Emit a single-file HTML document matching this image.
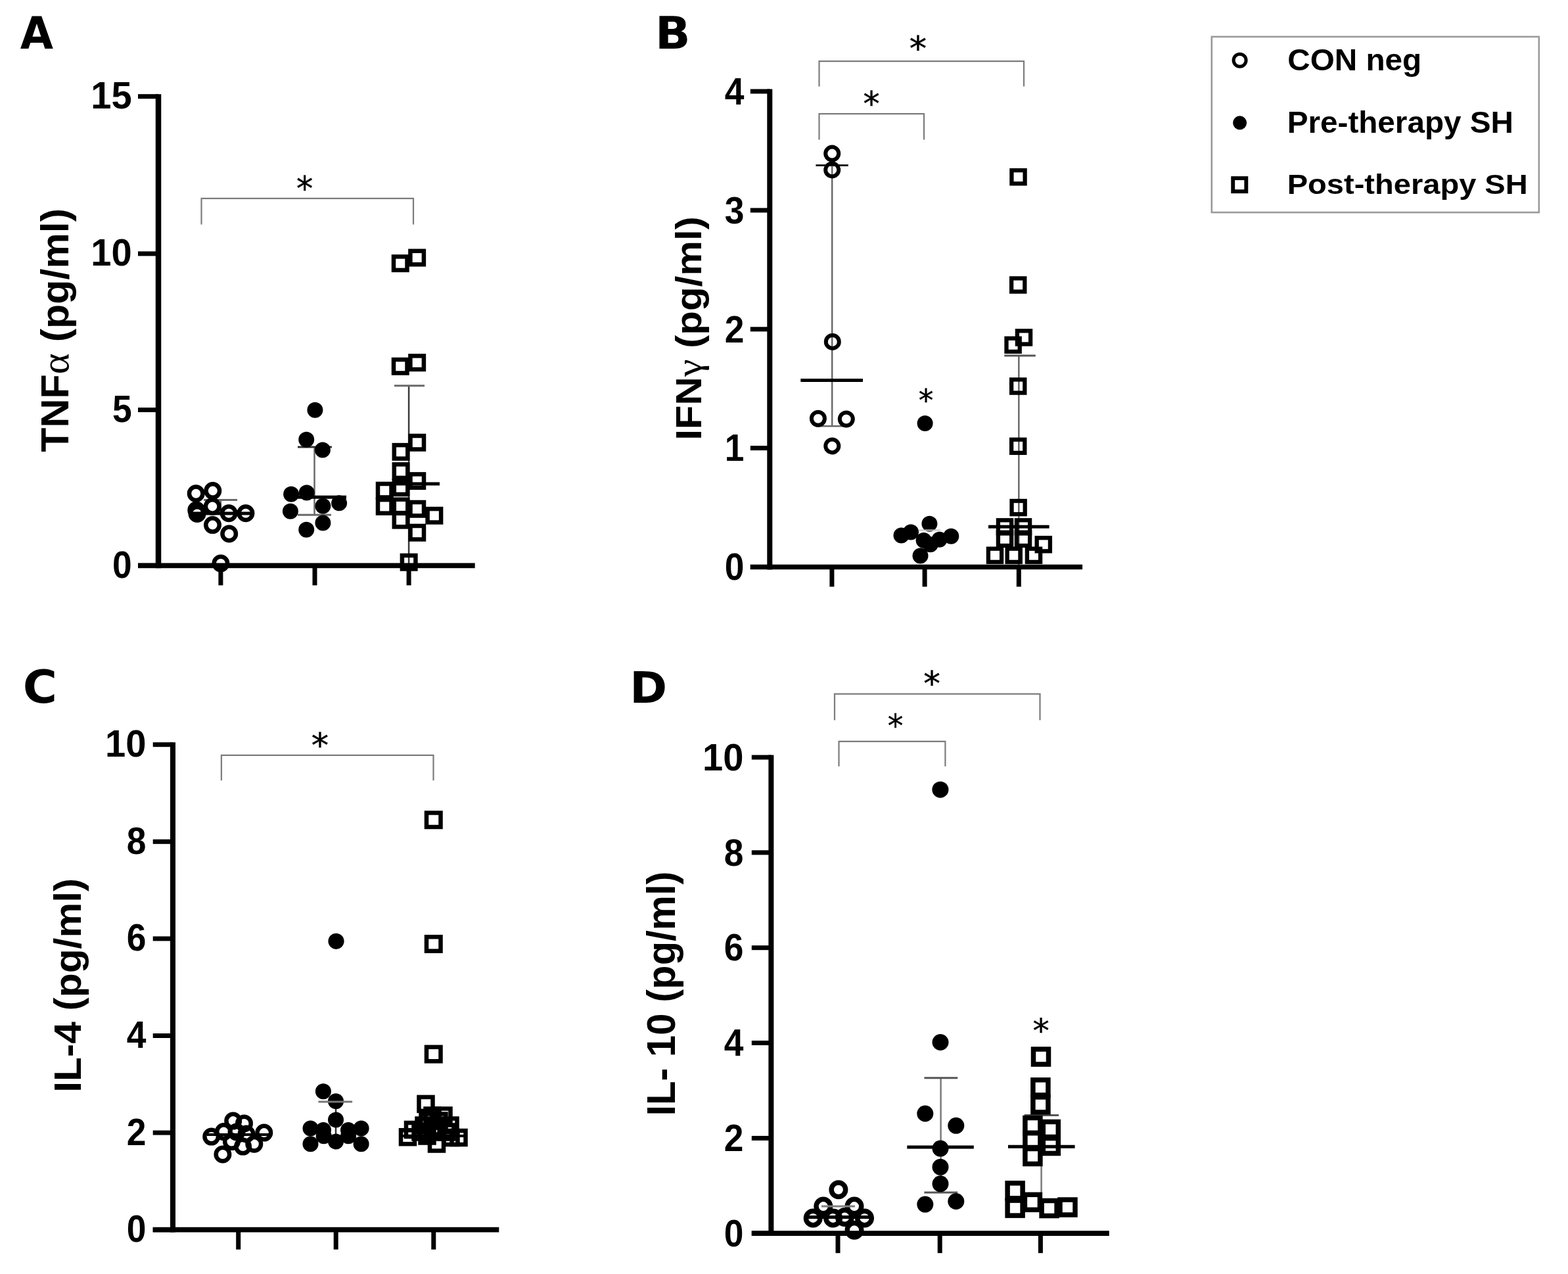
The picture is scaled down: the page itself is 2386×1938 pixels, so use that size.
<!DOCTYPE html>
<html><head><meta charset="utf-8"><title>Cytokine levels figure</title>
<style>html,body{margin:0;padding:0;background:#fff;}svg{display:block;}</style>
</head><body>
<svg width="2386" height="1938" viewBox="0 0 2386 1938">
<rect width="2386" height="1938" fill="#fff"/>
<g transform="translate(31.60,25.20) scale(0.9283,0.9780) translate(-101.00,-50.00)"><text x="100.0" y="100.0" font-family='"DejaVu Sans", Verdana, sans-serif' font-size="70" font-weight="bold" text-anchor="start" >A</text></g>
<g transform="translate(60.60,320.20) scale(1.0692,1.1088) translate(-62.00,-358.00)"><text transform="translate(102.2,689.4) rotate(-90)" font-family='"Liberation Sans", Arial, sans-serif' font-size="55" font-weight="bold">TNF<tspan font-weight="normal" font-family='"Liberation Serif", "DejaVu Serif", serif'>α</tspan> (pg/ml)</text></g>
<polyline points="306.5,341.6 306.5,301.8 629.0,301.8 629.0,341.6" fill="none" stroke="#7c7c7c" stroke-width="2.2"/>
<g transform="translate(452.15,266.40) scale(0.8409,0.8536) translate(-450.00,-265.00)"><text x="463.5" y="310.3" font-family='"DejaVu Sans", Verdana, sans-serif' font-size="60" font-weight="normal" stroke="#000" stroke-width="0.5" text-anchor="middle">*</text></g>
<line x1="335.9" y1="760.5" x2="335.9" y2="781.0" stroke="#6a6a6a" stroke-width="2.5" stroke-linecap="butt"/>
<line x1="310.0" y1="760.5" x2="361.0" y2="760.5" stroke="#6a6a6a" stroke-width="3" stroke-linecap="butt"/>
<circle cx="298.2" cy="750.7" r="10.25" fill="none" stroke="#000" stroke-width="6.5"/>
<circle cx="323.8" cy="746.6" r="10.25" fill="none" stroke="#000" stroke-width="6.5"/>
<circle cx="323.2" cy="770.4" r="10.25" fill="none" stroke="#000" stroke-width="6.5"/>
<circle cx="298.8" cy="776.0" r="10.25" fill="none" stroke="#000" stroke-width="6.5"/>
<circle cx="300.0" cy="781.5" r="10.25" fill="none" stroke="#000" stroke-width="6.5"/>
<circle cx="348.2" cy="780.8" r="10.25" fill="none" stroke="#000" stroke-width="6.5"/>
<circle cx="373.9" cy="780.8" r="10.25" fill="none" stroke="#000" stroke-width="6.5"/>
<circle cx="323.5" cy="798.6" r="10.25" fill="none" stroke="#000" stroke-width="6.5"/>
<circle cx="348.7" cy="812.0" r="10.25" fill="none" stroke="#000" stroke-width="6.5"/>
<circle cx="335.9" cy="857.0" r="10.25" fill="none" stroke="#000" stroke-width="6.5"/>
<line x1="288.0" y1="781.0" x2="384.0" y2="781.0" stroke="#000" stroke-width="5" stroke-linecap="butt"/>
<line x1="478.5" y1="680.0" x2="478.5" y2="783.3" stroke="#6a6a6a" stroke-width="2.5" stroke-linecap="butt"/>
<line x1="453.0" y1="680.0" x2="505.0" y2="680.0" stroke="#333" stroke-width="3" stroke-linecap="butt"/>
<line x1="453.0" y1="783.3" x2="504.0" y2="783.3" stroke="#6a6a6a" stroke-width="3" stroke-linecap="butt"/>
<circle cx="479.4" cy="623.8" r="12.00" fill="#000"/>
<circle cx="466.2" cy="668.7" r="12.00" fill="#000"/>
<circle cx="490.9" cy="684.4" r="12.00" fill="#000"/>
<circle cx="443.1" cy="751.8" r="12.00" fill="#000"/>
<circle cx="466.7" cy="749.6" r="12.00" fill="#000"/>
<circle cx="516.1" cy="765.3" r="12.00" fill="#000"/>
<circle cx="491.4" cy="769.8" r="12.00" fill="#000"/>
<circle cx="441.9" cy="777.7" r="12.00" fill="#000"/>
<circle cx="491.4" cy="795.6" r="12.00" fill="#000"/>
<circle cx="466.2" cy="805.7" r="12.00" fill="#000"/>
<line x1="433.0" y1="756.3" x2="527.0" y2="756.3" stroke="#000" stroke-width="5" stroke-linecap="butt"/>
<line x1="622.1" y1="586.7" x2="622.1" y2="860.0" stroke="#3a3a3a" stroke-width="2.5" stroke-linecap="butt"/>
<line x1="600.0" y1="586.7" x2="646.0" y2="586.7" stroke="#6a6a6a" stroke-width="3" stroke-linecap="butt"/>
<rect x="599.0" y="390.4" width="20.5" height="20.5" fill="none" stroke="#000" stroke-width="6.5"/>
<rect x="624.4" y="381.8" width="20.5" height="20.5" fill="none" stroke="#000" stroke-width="6.5"/>
<rect x="599.0" y="547.0" width="20.5" height="20.5" fill="none" stroke="#000" stroke-width="6.5"/>
<rect x="624.4" y="541.4" width="20.5" height="20.5" fill="none" stroke="#000" stroke-width="6.5"/>
<rect x="624.5" y="663.0" width="20.5" height="20.5" fill="none" stroke="#000" stroke-width="6.5"/>
<rect x="599.8" y="677.1" width="20.5" height="20.5" fill="none" stroke="#000" stroke-width="6.5"/>
<rect x="599.8" y="706.4" width="20.5" height="20.5" fill="none" stroke="#000" stroke-width="6.5"/>
<rect x="624.5" y="721.4" width="20.5" height="20.5" fill="none" stroke="#000" stroke-width="6.5"/>
<rect x="575.0" y="736.0" width="20.5" height="20.5" fill="none" stroke="#000" stroke-width="6.5"/>
<rect x="599.8" y="731.5" width="20.5" height="20.5" fill="none" stroke="#000" stroke-width="6.5"/>
<rect x="575.0" y="760.2" width="20.5" height="20.5" fill="none" stroke="#000" stroke-width="6.5"/>
<rect x="599.8" y="759.8" width="20.5" height="20.5" fill="none" stroke="#000" stroke-width="6.5"/>
<rect x="599.8" y="780.9" width="20.5" height="20.5" fill="none" stroke="#000" stroke-width="6.5"/>
<rect x="624.5" y="764.0" width="20.5" height="20.5" fill="none" stroke="#000" stroke-width="6.5"/>
<rect x="650.6" y="774.1" width="20.5" height="20.5" fill="none" stroke="#000" stroke-width="6.5"/>
<rect x="624.5" y="800.0" width="20.5" height="20.5" fill="none" stroke="#000" stroke-width="6.5"/>
<rect x="611.9" y="845.0" width="20.5" height="20.5" fill="none" stroke="#000" stroke-width="6.5"/>
<line x1="575.0" y1="736.1" x2="669.0" y2="736.1" stroke="#000" stroke-width="5" stroke-linecap="butt"/>
<line x1="241.0" y1="143.2" x2="241.0" y2="864.2" stroke="#000" stroke-width="8.5" stroke-linecap="butt"/>
<line x1="210.0" y1="860.4" x2="722.7" y2="860.4" stroke="#000" stroke-width="7.7" stroke-linecap="butt"/>
<line x1="210.0" y1="146.7" x2="241.0" y2="146.7" stroke="#000" stroke-width="7" stroke-linecap="butt"/>
<line x1="210.0" y1="385.9" x2="241.0" y2="385.9" stroke="#000" stroke-width="7" stroke-linecap="butt"/>
<line x1="210.0" y1="623.5" x2="241.0" y2="623.5" stroke="#000" stroke-width="7" stroke-linecap="butt"/>
<line x1="210.0" y1="860.4" x2="241.0" y2="860.4" stroke="#000" stroke-width="7" stroke-linecap="butt"/>
<line x1="335.9" y1="860.4" x2="335.9" y2="890.4" stroke="#000" stroke-width="7" stroke-linecap="butt"/>
<line x1="479.0" y1="860.4" x2="479.0" y2="890.4" stroke="#000" stroke-width="7" stroke-linecap="butt"/>
<line x1="622.1" y1="860.4" x2="622.1" y2="890.4" stroke="#000" stroke-width="7" stroke-linecap="butt"/>
<g transform="translate(200.6,165.2) scale(1.02,1.04)"><text x="0.0" y="0.0" font-family='"Liberation Sans", Arial, sans-serif' font-size="55" font-weight="bold" text-anchor="end" >15</text></g>
<g transform="translate(200.6,404.4) scale(1.02,1.04)"><text x="0.0" y="0.0" font-family='"Liberation Sans", Arial, sans-serif' font-size="55" font-weight="bold" text-anchor="end" >10</text></g>
<g transform="translate(200.6,642.0) scale(0.97,1.04)"><text x="0.0" y="0.0" font-family='"Liberation Sans", Arial, sans-serif' font-size="55" font-weight="bold" text-anchor="end" >5</text></g>
<g transform="translate(200.6,878.9) scale(0.97,1.04)"><text x="0.0" y="0.0" font-family='"Liberation Sans", Arial, sans-serif' font-size="55" font-weight="bold" text-anchor="end" >0</text></g>
<g transform="translate(1003.50,25.40) scale(1.0650,1.0188) translate(-106.00,-52.00)"><text x="100.0" y="100.0" font-family='"DejaVu Sans", Verdana, sans-serif' font-size="66" font-weight="bold" text-anchor="start" >B</text></g>
<g transform="translate(1027.00,332.70) scale(0.9611,1.0371) translate(-1026.00,-341.00)"><text transform="translate(1067.9,666.1) rotate(-90)" font-family='"Liberation Sans", Arial, sans-serif' font-size="58" font-weight="bold">IFN<tspan font-weight="normal" font-family='"Liberation Serif", "DejaVu Serif", serif'>γ</tspan> (pg/ml)</text></g>
<polyline points="1246.5,131.5 1246.5,93.2 1558.0,93.2 1558.0,131.5" fill="none" stroke="#7c7c7c" stroke-width="2.2"/>
<g transform="translate(1385.60,53.00) scale(0.8769,0.8571) translate(-1384.00,-52.00)"><text x="1397.0" y="97.0" font-family='"DejaVu Sans", Verdana, sans-serif' font-size="60" font-weight="normal" stroke="#000" stroke-width="0.5" text-anchor="middle">*</text></g>
<polyline points="1246.5,212.5 1246.5,173.2 1406.0,173.2 1406.0,212.5" fill="none" stroke="#7c7c7c" stroke-width="2.2"/>
<g transform="translate(1314.99,137.40) scale(0.8374,0.8500) translate(-1313.00,-136.00)"><text x="1326.3" y="181.2" font-family='"DejaVu Sans", Verdana, sans-serif' font-size="60" font-weight="normal" stroke="#000" stroke-width="0.5" text-anchor="middle">*</text></g>
<g transform="translate(1399.04,590.00) scale(0.7530,0.7643) translate(-1396.00,-586.00)"><text x="1409.2" y="631.4" font-family='"DejaVu Sans", Verdana, sans-serif' font-size="60" font-weight="normal" stroke="#000" stroke-width="0.5" text-anchor="middle">*</text></g>
<line x1="1266.2" y1="251.5" x2="1266.2" y2="648.2" stroke="#6a6a6a" stroke-width="2.5" stroke-linecap="butt"/>
<line x1="1241.4" y1="251.5" x2="1290.8" y2="251.5" stroke="#222" stroke-width="3" stroke-linecap="butt"/>
<line x1="1241.4" y1="648.2" x2="1290.8" y2="648.2" stroke="#6a6a6a" stroke-width="2.5" stroke-linecap="butt"/>
<circle cx="1266.2" cy="233.6" r="10.00" fill="none" stroke="#000" stroke-width="6"/>
<circle cx="1266.2" cy="258.4" r="10.00" fill="none" stroke="#000" stroke-width="6"/>
<circle cx="1266.8" cy="519.9" r="10.00" fill="none" stroke="#000" stroke-width="6"/>
<circle cx="1244.9" cy="636.8" r="10.00" fill="none" stroke="#000" stroke-width="6"/>
<circle cx="1287.8" cy="637.5" r="10.00" fill="none" stroke="#000" stroke-width="6"/>
<circle cx="1266.3" cy="678.4" r="10.00" fill="none" stroke="#000" stroke-width="6"/>
<line x1="1218.3" y1="578.4" x2="1313.0" y2="578.4" stroke="#000" stroke-width="5" stroke-linecap="butt"/>
<circle cx="1407.6" cy="644.0" r="12.00" fill="#000"/>
<circle cx="1414.4" cy="796.7" r="12.00" fill="#000"/>
<circle cx="1371.5" cy="814.4" r="12.00" fill="#000"/>
<circle cx="1386.0" cy="809.4" r="12.00" fill="#000"/>
<circle cx="1447.3" cy="815.7" r="12.00" fill="#000"/>
<circle cx="1405.6" cy="822.0" r="12.00" fill="#000"/>
<circle cx="1429.6" cy="820.8" r="12.00" fill="#000"/>
<circle cx="1415.7" cy="828.3" r="12.00" fill="#000"/>
<circle cx="1400.5" cy="845.4" r="12.00" fill="#000"/>
<line x1="1398.0" y1="806.5" x2="1431.0" y2="806.5" stroke="#c8c8c8" stroke-width="2" stroke-linecap="butt"/>
<line x1="1550.3" y1="541.1" x2="1550.3" y2="862.0" stroke="#6a6a6a" stroke-width="2.5" stroke-linecap="butt"/>
<rect x="1539.4" y="259.1" width="20.2" height="20.2" fill="none" stroke="#000" stroke-width="6.3"/>
<rect x="1539.1" y="423.4" width="20.2" height="20.2" fill="none" stroke="#000" stroke-width="6.3"/>
<rect x="1547.9" y="503.3" width="20.2" height="20.2" fill="none" stroke="#000" stroke-width="6.3"/>
<rect x="1531.5" y="514.7" width="20.2" height="20.2" fill="none" stroke="#000" stroke-width="6.3"/>
<rect x="1539.1" y="577.4" width="20.2" height="20.2" fill="none" stroke="#000" stroke-width="6.3"/>
<rect x="1539.1" y="668.7" width="20.2" height="20.2" fill="none" stroke="#000" stroke-width="6.3"/>
<rect x="1539.5" y="762.0" width="20.2" height="20.2" fill="none" stroke="#000" stroke-width="6.3"/>
<rect x="1518.9" y="791.3" width="20.2" height="20.2" fill="none" stroke="#000" stroke-width="6.3"/>
<rect x="1546.9" y="791.3" width="20.2" height="20.2" fill="none" stroke="#000" stroke-width="6.3"/>
<rect x="1518.9" y="809.8" width="20.2" height="20.2" fill="none" stroke="#000" stroke-width="6.3"/>
<rect x="1546.9" y="809.8" width="20.2" height="20.2" fill="none" stroke="#000" stroke-width="6.3"/>
<rect x="1577.7" y="818.2" width="20.2" height="20.2" fill="none" stroke="#000" stroke-width="6.3"/>
<rect x="1503.9" y="834.7" width="20.2" height="20.2" fill="none" stroke="#000" stroke-width="6.3"/>
<rect x="1532.6" y="834.7" width="20.2" height="20.2" fill="none" stroke="#000" stroke-width="6.3"/>
<rect x="1562.9" y="834.7" width="20.2" height="20.2" fill="none" stroke="#000" stroke-width="6.3"/>
<line x1="1528.3" y1="541.1" x2="1575.8" y2="541.1" stroke="#555" stroke-width="3" stroke-linecap="butt"/>
<line x1="1504.0" y1="801.3" x2="1596.6" y2="801.3" stroke="#000" stroke-width="5" stroke-linecap="butt"/>
<line x1="1171.3" y1="135.5" x2="1171.3" y2="866.4" stroke="#000" stroke-width="8" stroke-linecap="butt"/>
<line x1="1141.8" y1="862.5" x2="1647.1" y2="862.5" stroke="#000" stroke-width="7.7" stroke-linecap="butt"/>
<line x1="1141.8" y1="139.0" x2="1171.3" y2="139.0" stroke="#000" stroke-width="7" stroke-linecap="butt"/>
<line x1="1141.8" y1="319.9" x2="1171.3" y2="319.9" stroke="#000" stroke-width="7" stroke-linecap="butt"/>
<line x1="1141.8" y1="500.8" x2="1171.3" y2="500.8" stroke="#000" stroke-width="7" stroke-linecap="butt"/>
<line x1="1141.8" y1="681.6" x2="1171.3" y2="681.6" stroke="#000" stroke-width="7" stroke-linecap="butt"/>
<line x1="1141.8" y1="862.5" x2="1171.3" y2="862.5" stroke="#000" stroke-width="7" stroke-linecap="butt"/>
<line x1="1265.9" y1="862.5" x2="1265.9" y2="892.5" stroke="#000" stroke-width="7" stroke-linecap="butt"/>
<line x1="1407.1" y1="862.5" x2="1407.1" y2="892.5" stroke="#000" stroke-width="7" stroke-linecap="butt"/>
<line x1="1550.3" y1="862.5" x2="1550.3" y2="892.5" stroke="#000" stroke-width="7" stroke-linecap="butt"/>
<g transform="translate(1132.5,158.7) scale(0.97,1.04)"><text x="0.0" y="0.0" font-family='"Liberation Sans", Arial, sans-serif' font-size="55" font-weight="bold" text-anchor="end" >4</text></g>
<g transform="translate(1132.5,339.6) scale(0.97,1.04)"><text x="0.0" y="0.0" font-family='"Liberation Sans", Arial, sans-serif' font-size="55" font-weight="bold" text-anchor="end" >3</text></g>
<g transform="translate(1132.5,520.5) scale(0.97,1.04)"><text x="0.0" y="0.0" font-family='"Liberation Sans", Arial, sans-serif' font-size="55" font-weight="bold" text-anchor="end" >2</text></g>
<g transform="translate(1132.5,701.3) scale(0.97,1.04)"><text x="0.0" y="0.0" font-family='"Liberation Sans", Arial, sans-serif' font-size="55" font-weight="bold" text-anchor="end" >1</text></g>
<g transform="translate(1132.5,882.2) scale(0.97,1.04)"><text x="0.0" y="0.0" font-family='"Liberation Sans", Arial, sans-serif' font-size="55" font-weight="bold" text-anchor="end" >0</text></g>
<rect x="1843.8" y="55.9" width="498" height="267.2" fill="none" stroke="#9a9a9a" stroke-width="2.6"/>
<circle cx="1886.6" cy="91.8" r="9.50" fill="none" stroke="#000" stroke-width="5"/>
<circle cx="1886.6" cy="186.8" r="10.50" fill="#000"/>
<rect x="1876.2" y="271.1" width="20.1" height="20.1" fill="none" stroke="#000" stroke-width="5.9"/>
<g transform="translate(1961.80,75.00) scale(1.0594,1.0250) translate(-1964.00,-77.00)"><text x="1961.7" y="108.3" font-family='"Liberation Sans", Arial, sans-serif' font-size="45" font-weight="bold" text-anchor="start" >CON neg</text></g>
<g transform="translate(1962.20,169.70) scale(1.0589,1.0146) translate(-1965.00,-168.00)"><text x="1961.7" y="200.2" font-family='"Liberation Sans", Arial, sans-serif' font-size="45" font-weight="bold" text-anchor="start" >Pre-therapy SH</text></g>
<g transform="translate(1962.20,263.90) scale(1.0456,0.9634) translate(-1965.00,-264.00)"><text x="1961.7" y="296.4" font-family='"Liberation Sans", Arial, sans-serif' font-size="45" font-weight="bold" text-anchor="start" >Post-therapy SH</text></g>
<g transform="translate(38.90,1018.90) scale(1.0163,0.9904) translate(-104.00,-49.00)"><text x="100.0" y="100.0" font-family='"DejaVu Sans", Verdana, sans-serif' font-size="70" font-weight="bold" text-anchor="start" >C</text></g>
<g transform="translate(81.20,1338.50) scale(0.9833,1.0425) translate(-80.00,-1348.00)"><text transform="translate(122.2,1658) rotate(-90)" font-family='"Liberation Sans", Arial, sans-serif' font-size="58" font-weight="bold">IL-4 (pg/ml)</text></g>
<polyline points="336.9,1187.2 336.9,1148.8 659.5,1148.8 659.5,1187.2" fill="none" stroke="#7c7c7c" stroke-width="2.2"/>
<g transform="translate(475.60,1113.00) scale(0.8769,0.8571) translate(-474.00,-1112.00)"><text x="487.0" y="1157.0" font-family='"DejaVu Sans", Verdana, sans-serif' font-size="60" font-weight="normal" stroke="#000" stroke-width="0.5" text-anchor="middle">*</text></g>
<circle cx="354.7" cy="1705.1" r="10.25" fill="none" stroke="#000" stroke-width="6.5"/>
<circle cx="371.5" cy="1708.9" r="10.25" fill="none" stroke="#000" stroke-width="6.5"/>
<circle cx="401.8" cy="1723.1" r="10.25" fill="none" stroke="#000" stroke-width="6.5"/>
<circle cx="340.4" cy="1721.6" r="10.25" fill="none" stroke="#000" stroke-width="6.5"/>
<circle cx="321.7" cy="1729.1" r="10.25" fill="none" stroke="#000" stroke-width="6.5"/>
<circle cx="352.4" cy="1736.6" r="10.25" fill="none" stroke="#000" stroke-width="6.5"/>
<circle cx="369.6" cy="1744.1" r="10.25" fill="none" stroke="#000" stroke-width="6.5"/>
<circle cx="386.8" cy="1740.3" r="10.25" fill="none" stroke="#000" stroke-width="6.5"/>
<circle cx="338.9" cy="1756.0" r="10.25" fill="none" stroke="#000" stroke-width="6.5"/>
<circle cx="375.0" cy="1725.0" r="10.25" fill="none" stroke="#000" stroke-width="6.5"/>
<circle cx="360.0" cy="1722.0" r="10.25" fill="none" stroke="#000" stroke-width="6.5"/>
<line x1="315.0" y1="1726.0" x2="410.0" y2="1726.0" stroke="#000" stroke-width="4" stroke-linecap="butt"/>
<line x1="511.0" y1="1675.9" x2="511.0" y2="1736.0" stroke="#333" stroke-width="2.5" stroke-linecap="butt"/>
<circle cx="491.9" cy="1660.2" r="12.00" fill="#000"/>
<circle cx="511.0" cy="1675.2" r="12.00" fill="#000"/>
<circle cx="511.0" cy="1703.6" r="12.00" fill="#000"/>
<circle cx="472.5" cy="1716.4" r="12.00" fill="#000"/>
<circle cx="549.6" cy="1716.4" r="12.00" fill="#000"/>
<circle cx="472.5" cy="1740.3" r="12.00" fill="#000"/>
<circle cx="549.6" cy="1740.3" r="12.00" fill="#000"/>
<circle cx="511.0" cy="1736.6" r="12.00" fill="#000"/>
<circle cx="492.7" cy="1728.3" r="12.00" fill="#000"/>
<circle cx="530.1" cy="1728.3" r="12.00" fill="#000"/>
<circle cx="492.0" cy="1719.0" r="12.00" fill="#000"/>
<circle cx="530.0" cy="1719.0" r="12.00" fill="#000"/>
<line x1="484.4" y1="1675.9" x2="536.1" y2="1675.9" stroke="#777" stroke-width="3" stroke-linecap="butt"/>
<rect x="637.5" y="1668.9" width="21.0" height="21.0" fill="none" stroke="#000" stroke-width="6.5"/>
<rect x="647.5" y="1686.5" width="21.0" height="21.0" fill="none" stroke="#000" stroke-width="6.5"/>
<rect x="664.5" y="1686.5" width="21.0" height="21.0" fill="none" stroke="#000" stroke-width="6.5"/>
<rect x="618.0" y="1708.0" width="21.0" height="21.0" fill="none" stroke="#000" stroke-width="6.5"/>
<rect x="610.0" y="1719.2" width="21.0" height="21.0" fill="none" stroke="#000" stroke-width="6.5"/>
<rect x="634.5" y="1701.5" width="21.0" height="21.0" fill="none" stroke="#000" stroke-width="6.5"/>
<rect x="654.5" y="1704.5" width="21.0" height="21.0" fill="none" stroke="#000" stroke-width="6.5"/>
<rect x="674.5" y="1701.5" width="21.0" height="21.0" fill="none" stroke="#000" stroke-width="6.5"/>
<rect x="654.0" y="1729.5" width="21.0" height="21.0" fill="none" stroke="#000" stroke-width="6.5"/>
<rect x="675.5" y="1720.0" width="21.0" height="21.0" fill="none" stroke="#000" stroke-width="6.5"/>
<rect x="687.5" y="1720.0" width="21.0" height="21.0" fill="none" stroke="#000" stroke-width="6.5"/>
<rect x="639.5" y="1717.5" width="21.0" height="21.0" fill="none" stroke="#000" stroke-width="6.5"/>
<rect x="640.5" y="1694.5" width="21.0" height="21.0" fill="none" stroke="#000" stroke-width="6.5"/>
<rect x="657.5" y="1694.5" width="21.0" height="21.0" fill="none" stroke="#000" stroke-width="6.5"/>
<rect x="669.5" y="1711.5" width="21.0" height="21.0" fill="none" stroke="#000" stroke-width="6.5"/>
<rect x="629.5" y="1711.5" width="21.0" height="21.0" fill="none" stroke="#000" stroke-width="6.5"/>
<rect x="647.5" y="1711.5" width="21.0" height="21.0" fill="none" stroke="#000" stroke-width="6.5"/>
<line x1="612.0" y1="1728.0" x2="708.0" y2="1728.0" stroke="#000" stroke-width="4" stroke-linecap="butt"/>
<rect x="649.0" y="1236.5" width="21.5" height="21.5" fill="none" stroke="#000" stroke-width="6.5"/>
<rect x="649.0" y="1425.2" width="21.5" height="21.5" fill="none" stroke="#000" stroke-width="6.5"/>
<rect x="649.0" y="1592.8" width="21.5" height="21.5" fill="none" stroke="#000" stroke-width="6.5"/>
<circle cx="511.5" cy="1431.8" r="12.10" fill="#000"/>
<line x1="263.0" y1="1129.2" x2="263.0" y2="1874.5" stroke="#000" stroke-width="8" stroke-linecap="butt"/>
<line x1="232.7" y1="1870.7" x2="759.3" y2="1870.7" stroke="#000" stroke-width="7.7" stroke-linecap="butt"/>
<line x1="232.7" y1="1132.7" x2="263.0" y2="1132.7" stroke="#000" stroke-width="7" stroke-linecap="butt"/>
<line x1="232.7" y1="1280.3" x2="263.0" y2="1280.3" stroke="#000" stroke-width="7" stroke-linecap="butt"/>
<line x1="232.7" y1="1427.9" x2="263.0" y2="1427.9" stroke="#000" stroke-width="7" stroke-linecap="butt"/>
<line x1="232.7" y1="1575.5" x2="263.0" y2="1575.5" stroke="#000" stroke-width="7" stroke-linecap="butt"/>
<line x1="232.7" y1="1723.1" x2="263.0" y2="1723.1" stroke="#000" stroke-width="7" stroke-linecap="butt"/>
<line x1="232.7" y1="1870.7" x2="263.0" y2="1870.7" stroke="#000" stroke-width="7" stroke-linecap="butt"/>
<line x1="362.7" y1="1870.7" x2="362.7" y2="1900.7" stroke="#000" stroke-width="7" stroke-linecap="butt"/>
<line x1="511.2" y1="1870.7" x2="511.2" y2="1900.7" stroke="#000" stroke-width="7" stroke-linecap="butt"/>
<line x1="659.8" y1="1870.7" x2="659.8" y2="1900.7" stroke="#000" stroke-width="7" stroke-linecap="butt"/>
<g transform="translate(222.4,1151.1) scale(1.02,1.04)"><text x="0.0" y="0.0" font-family='"Liberation Sans", Arial, sans-serif' font-size="55" font-weight="bold" text-anchor="end" >10</text></g>
<g transform="translate(222.4,1298.7) scale(0.97,1.04)"><text x="0.0" y="0.0" font-family='"Liberation Sans", Arial, sans-serif' font-size="55" font-weight="bold" text-anchor="end" >8</text></g>
<g transform="translate(222.4,1446.3) scale(0.97,1.04)"><text x="0.0" y="0.0" font-family='"Liberation Sans", Arial, sans-serif' font-size="55" font-weight="bold" text-anchor="end" >6</text></g>
<g transform="translate(222.4,1593.9) scale(0.97,1.04)"><text x="0.0" y="0.0" font-family='"Liberation Sans", Arial, sans-serif' font-size="55" font-weight="bold" text-anchor="end" >4</text></g>
<g transform="translate(222.4,1741.5) scale(0.97,1.04)"><text x="0.0" y="0.0" font-family='"Liberation Sans", Arial, sans-serif' font-size="55" font-weight="bold" text-anchor="end" >2</text></g>
<g transform="translate(222.4,1889.1) scale(0.97,1.04)"><text x="0.0" y="0.0" font-family='"Liberation Sans", Arial, sans-serif' font-size="55" font-weight="bold" text-anchor="end" >0</text></g>
<g transform="translate(964.30,1020.20) scale(1.0085,0.9680) translate(-106.00,-50.00)"><text x="100.0" y="100.0" font-family='"DejaVu Sans", Verdana, sans-serif' font-size="68" font-weight="bold" text-anchor="start" >D</text></g>
<g transform="translate(982.40,1328.10) scale(1.0491,1.0136) translate(-984.00,-1329.00)"><text transform="translate(1026.8,1693.5) rotate(-90)" font-family='"Liberation Sans", Arial, sans-serif' font-size="59" font-weight="bold">IL- 10 (pg/ml)</text></g>
<polyline points="1270.0,1095.5 1270.0,1055.6 1582.5,1055.6 1582.5,1095.5" fill="none" stroke="#7c7c7c" stroke-width="2.2"/>
<g transform="translate(1406.26,1019.20) scale(0.8550,0.8679) translate(-1404.00,-1019.00)"><text x="1417.8" y="1063.5" font-family='"DejaVu Sans", Verdana, sans-serif' font-size="60" font-weight="normal" stroke="#000" stroke-width="0.5" text-anchor="middle">*</text></g>
<polyline points="1276.5,1165.7 1276.5,1127.8 1438.4,1127.8 1438.4,1165.7" fill="none" stroke="#7c7c7c" stroke-width="2.2"/>
<g transform="translate(1351.96,1084.70) scale(0.7881,0.8000) translate(-1349.00,-1082.00)"><text x="1362.6" y="1127.1" font-family='"DejaVu Sans", Verdana, sans-serif' font-size="60" font-weight="normal" stroke="#000" stroke-width="0.5" text-anchor="middle">*</text></g>
<g transform="translate(1573.08,1548.00) scale(0.8404,0.8214) translate(-1571.00,-1546.00)"><text x="1584.0" y="1591.0" font-family='"DejaVu Sans", Verdana, sans-serif' font-size="60" font-weight="normal" stroke="#000" stroke-width="0.5" text-anchor="middle">*</text></g>
<circle cx="1275.9" cy="1809.8" r="10.75" fill="none" stroke="#000" stroke-width="7.5"/>
<circle cx="1252.8" cy="1835.1" r="10.75" fill="none" stroke="#000" stroke-width="7.5"/>
<circle cx="1300.0" cy="1835.1" r="10.75" fill="none" stroke="#000" stroke-width="7.5"/>
<circle cx="1237.2" cy="1852.9" r="10.75" fill="none" stroke="#000" stroke-width="7.5"/>
<circle cx="1267.6" cy="1852.9" r="10.75" fill="none" stroke="#000" stroke-width="7.5"/>
<circle cx="1285.4" cy="1851.6" r="10.75" fill="none" stroke="#000" stroke-width="7.5"/>
<circle cx="1315.5" cy="1852.9" r="10.75" fill="none" stroke="#000" stroke-width="7.5"/>
<circle cx="1300.0" cy="1871.2" r="10.75" fill="none" stroke="#000" stroke-width="7.5"/>
<line x1="1250.0" y1="1835.0" x2="1301.0" y2="1835.0" stroke="#808080" stroke-width="3" stroke-linecap="butt"/>
<line x1="1225.0" y1="1851.5" x2="1329.0" y2="1851.5" stroke="#000" stroke-width="5" stroke-linecap="butt"/>
<line x1="1431.6" y1="1639.8" x2="1431.6" y2="1813.9" stroke="#7a7a7a" stroke-width="2.5" stroke-linecap="butt"/>
<line x1="1406.4" y1="1639.8" x2="1457.2" y2="1639.8" stroke="#555" stroke-width="3" stroke-linecap="butt"/>
<line x1="1406.4" y1="1813.9" x2="1457.2" y2="1813.9" stroke="#555" stroke-width="3" stroke-linecap="butt"/>
<circle cx="1430.9" cy="1201.2" r="12.50" fill="#000"/>
<circle cx="1431.0" cy="1585.5" r="12.50" fill="#000"/>
<circle cx="1407.8" cy="1694.0" r="12.50" fill="#000"/>
<circle cx="1454.8" cy="1712.3" r="12.50" fill="#000"/>
<circle cx="1431.0" cy="1747.1" r="12.50" fill="#000"/>
<circle cx="1431.0" cy="1775.3" r="12.50" fill="#000"/>
<circle cx="1431.0" cy="1800.8" r="12.50" fill="#000"/>
<circle cx="1407.8" cy="1832.1" r="12.50" fill="#000"/>
<circle cx="1454.8" cy="1827.5" r="12.50" fill="#000"/>
<line x1="1380.3" y1="1745.1" x2="1481.8" y2="1745.1" stroke="#000" stroke-width="5" stroke-linecap="butt"/>
<line x1="1584.6" y1="1696.4" x2="1584.6" y2="1815.0" stroke="#7a7a7a" stroke-width="2.5" stroke-linecap="butt"/>
<line x1="1558.7" y1="1696.4" x2="1611.0" y2="1696.4" stroke="#555" stroke-width="3" stroke-linecap="butt"/>
<rect x="1572.5" y="1596.0" width="23.0" height="23.0" fill="none" stroke="#000" stroke-width="7.5"/>
<rect x="1571.9" y="1642.8" width="23.0" height="23.0" fill="none" stroke="#000" stroke-width="7.5"/>
<rect x="1571.9" y="1668.9" width="23.0" height="23.0" fill="none" stroke="#000" stroke-width="7.5"/>
<rect x="1559.9" y="1700.5" width="23.0" height="23.0" fill="none" stroke="#000" stroke-width="7.5"/>
<rect x="1587.3" y="1706.5" width="23.0" height="23.0" fill="none" stroke="#000" stroke-width="7.5"/>
<rect x="1559.9" y="1723.5" width="23.0" height="23.0" fill="none" stroke="#000" stroke-width="7.5"/>
<rect x="1587.3" y="1731.5" width="23.0" height="23.0" fill="none" stroke="#000" stroke-width="7.5"/>
<rect x="1559.9" y="1747.5" width="23.0" height="23.0" fill="none" stroke="#000" stroke-width="7.5"/>
<rect x="1533.1" y="1799.8" width="23.0" height="23.0" fill="none" stroke="#000" stroke-width="7.5"/>
<rect x="1533.1" y="1826.1" width="23.0" height="23.0" fill="none" stroke="#000" stroke-width="7.5"/>
<rect x="1559.4" y="1817.3" width="23.0" height="23.0" fill="none" stroke="#000" stroke-width="7.5"/>
<rect x="1585.1" y="1826.5" width="23.0" height="23.0" fill="none" stroke="#000" stroke-width="7.5"/>
<rect x="1613.0" y="1825.0" width="23.0" height="23.0" fill="none" stroke="#000" stroke-width="7.5"/>
<line x1="1534.0" y1="1744.2" x2="1635.6" y2="1744.2" stroke="#000" stroke-width="5" stroke-linecap="butt"/>
<line x1="1173.4" y1="1148.5" x2="1173.4" y2="1880.0" stroke="#000" stroke-width="8" stroke-linecap="butt"/>
<line x1="1143.8" y1="1876.2" x2="1687.8" y2="1876.2" stroke="#000" stroke-width="7.7" stroke-linecap="butt"/>
<line x1="1143.8" y1="1152.0" x2="1173.4" y2="1152.0" stroke="#000" stroke-width="7" stroke-linecap="butt"/>
<line x1="1143.8" y1="1296.9" x2="1173.4" y2="1296.9" stroke="#000" stroke-width="7" stroke-linecap="butt"/>
<line x1="1143.8" y1="1441.7" x2="1173.4" y2="1441.7" stroke="#000" stroke-width="7" stroke-linecap="butt"/>
<line x1="1143.8" y1="1586.5" x2="1173.4" y2="1586.5" stroke="#000" stroke-width="7" stroke-linecap="butt"/>
<line x1="1143.8" y1="1731.4" x2="1173.4" y2="1731.4" stroke="#000" stroke-width="7" stroke-linecap="butt"/>
<line x1="1143.8" y1="1876.2" x2="1173.4" y2="1876.2" stroke="#000" stroke-width="7" stroke-linecap="butt"/>
<line x1="1275.0" y1="1876.2" x2="1275.0" y2="1906.2" stroke="#000" stroke-width="7" stroke-linecap="butt"/>
<line x1="1430.2" y1="1876.2" x2="1430.2" y2="1906.2" stroke="#000" stroke-width="7" stroke-linecap="butt"/>
<line x1="1583.4" y1="1876.2" x2="1583.4" y2="1906.2" stroke="#000" stroke-width="7" stroke-linecap="butt"/>
<g transform="translate(1131.5,1171.7) scale(1.02,1.04)"><text x="0.0" y="0.0" font-family='"Liberation Sans", Arial, sans-serif' font-size="55" font-weight="bold" text-anchor="end" >10</text></g>
<g transform="translate(1131.5,1316.6) scale(0.97,1.04)"><text x="0.0" y="0.0" font-family='"Liberation Sans", Arial, sans-serif' font-size="55" font-weight="bold" text-anchor="end" >8</text></g>
<g transform="translate(1131.5,1461.4) scale(0.97,1.04)"><text x="0.0" y="0.0" font-family='"Liberation Sans", Arial, sans-serif' font-size="55" font-weight="bold" text-anchor="end" >6</text></g>
<g transform="translate(1131.5,1606.2) scale(0.97,1.04)"><text x="0.0" y="0.0" font-family='"Liberation Sans", Arial, sans-serif' font-size="55" font-weight="bold" text-anchor="end" >4</text></g>
<g transform="translate(1131.5,1751.1) scale(0.97,1.04)"><text x="0.0" y="0.0" font-family='"Liberation Sans", Arial, sans-serif' font-size="55" font-weight="bold" text-anchor="end" >2</text></g>
<g transform="translate(1131.5,1895.9) scale(0.97,1.04)"><text x="0.0" y="0.0" font-family='"Liberation Sans", Arial, sans-serif' font-size="55" font-weight="bold" text-anchor="end" >0</text></g>
</svg>
</body></html>
